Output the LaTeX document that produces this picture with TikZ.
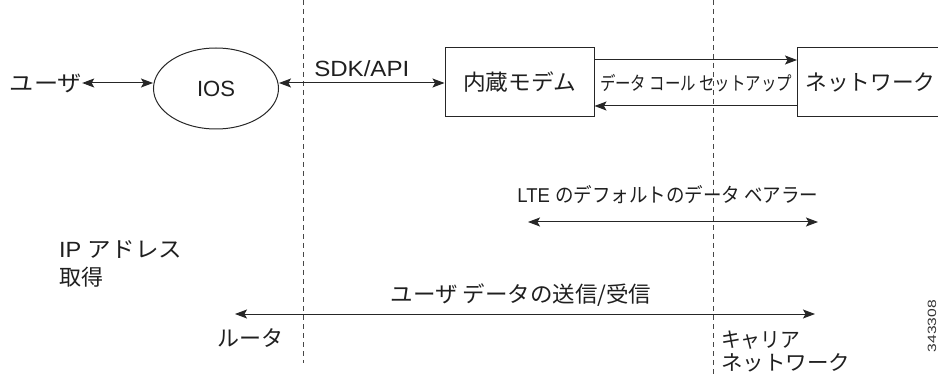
\documentclass[tikz,border=0pt]{standalone}
\usepackage{fontspec}
\usepackage{graphicx}
\setmainfont{Liberation Sans}
\newfontfamily\jp{Noto Sans CJK JP}
\usetikzlibrary{arrows.meta,shapes.geometric}
\newcommand{\fitw}[2]{\resizebox{#1}{\height}{#2}}
\begin{document}
\begin{tikzpicture}[x=1pt,y=-1pt,
  every node/.style={inner sep=0pt, text=black!88, font=\fontsize{22}{26}\selectfont},
  tip/.tip={Stealth[length=12pt,width=9pt,inset=2.5pt]},
  arr/.style={line width=1pt, draw=black!85, tip-tip},
  arrto/.style={line width=1pt, draw=black!85, -tip},
  dashln/.style={line width=1pt, draw=black!72, dash pattern=on 5pt off 4pt},
  boxn/.style={draw=black!85, line width=1pt, minimum height=69pt}]
\useasboundingbox (0,0) rectangle (938,377);
\clip (0,0) rectangle (938,377);

% dashed boundaries
\coordinate (d1t) at (303,0);
\coordinate (d1b) at (303,363);
\coordinate (d2t) at (713,0);
\coordinate (d2b) at (713,377);
\draw[dashln] (d1t) -- (d1b);
\draw[dashln] (d2t) -- (d2b);

% top row
\node (user) at (46,83) {\fitw{72pt}{\jp ユーザ}};
\node[ellipse, draw=black!85, line width=1pt, minimum width=125pt, minimum height=81pt] (ios) at (216,88.5) {\fitw{38pt}{IOS}};
\node[boxn, minimum width=149pt] (modem) at (519.5,82.5) {\fitw{113pt}{\jp 内蔵モデム}};
\node[boxn, anchor=west, minimum width=200pt, inner xsep=8pt, text width=184pt, align=left] (net) at (797,82.5) {\fitw{130pt}{\jp ネットワーク}};

\draw[arr] (user.east) -- (user.east -| ios.west);
\draw[arr] (user.east -| ios.east) -- (user.east -| modem.west)
  node[midway, above=6pt] (sdk) {\fitw{95pt}{SDK/API}};
\draw[arrto] ([yshift=22.5pt]modem.east) -- ([yshift=22.5pt]net.west);
\draw[arrto] ([yshift=-23.5pt]net.west) -- ([yshift=-23.5pt]modem.east);
\node (setup) at (696,83) {\fitw{192pt}{\fontsize{19}{22}\selectfont\jp データ コール セットアップ}};

% LTE bearer
\coordinate (lteL) at (528,222);
\coordinate (lteR) at (818,222);
\draw[arr] (lteL) -- (lteR);
\node (lte) at (668,195) {\fitw{301pt}{\fontsize{20}{24}\selectfont LTE {\jp のデフォルトのデータ ベアラー}}};

% IP address
\node[anchor=west, align=left, font=\fontsize{22}{28}\selectfont] (ip) at (59,264) {\fitw{123pt}{IP {\jp アドレス}}\\{\jp 取得}};

% user data
\coordinate (udL) at (235,314);
\coordinate (udR) at (815,314);
\draw[arr] (udL) -- (udR);
\node (ud) at (521,295) {\fitw{261pt}{\jp ユーザ データの送信/受信}};

\node (router) at (250,338) {\fitw{66pt}{\jp ルータ}};
\node[anchor=west, align=left, font=\fontsize{21}{23}\selectfont] (carrier) at (721,351.5) {\fitw{79pt}{\jp キャリア}\\\fitw{129pt}{\jp ネットワーク}};

\node[rotate=90, font=\fontsize{12}{14}\selectfont, text=black!80] (fig) at (932,326) {\fitw{52pt}{343308}};
\end{tikzpicture}
\end{document}
